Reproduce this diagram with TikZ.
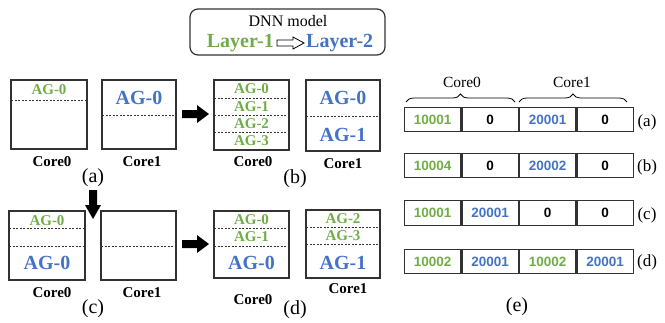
\documentclass[tikz,border=0pt]{standalone}
\usepackage{fontspec}
\setmainfont{Liberation Serif}
\newfontfamily\numfont{Liberation Sans}
\usetikzlibrary{decorations.pathreplacing}
\definecolor{agg}{RGB}{112,173,71}
\definecolor{agb}{RGB}{68,114,196}
\definecolor{lin}{RGB}{50,50,50}
\tikzset{
  corebox/.style={draw=lin,line width=1.3pt},
  sep/.style={draw=lin,dashed,line width=0.6pt,dash pattern=on 2pt off 1.5pt},
  agsmall/.style={text=agg,font=\fontsize{15}{15}\selectfont\bfseries,inner sep=0pt},
  agbig/.style={text=agb,font=\fontsize{20}{20}\selectfont\bfseries,inner sep=0pt},
  corelbl/.style={font=\fontsize{15}{15}\selectfont\bfseries,inner sep=0pt},
  sublbl/.style={font=\fontsize{20}{20}\selectfont,inner sep=0pt},
  rowlbl/.style={font=\fontsize{17}{17}\selectfont,inner sep=0pt},
  cell/.style={draw=lin,line width=1.2pt,minimum width=56.25pt,minimum height=24.5pt,inner sep=0pt,font=\numfont\fontsize{13.5}{13.5}\selectfont\bfseries,anchor=west},
  fatarrow/.style={fill=black},
}
\begin{document}
\begin{tikzpicture}[x=1pt,y=-1pt]
\useasboundingbox (0,0) rectangle (665,322);
% DNN model box
\node[draw=lin,line width=1.2pt,rounded corners=8pt,minimum width=195pt,minimum height=46pt,inner sep=0pt] (dnn) at (287.5,32) {};
\node[font=\fontsize{16}{16}\selectfont,inner sep=0pt] (dnnt) at (288,21) {DNN model};
\node[text=agg,font=\fontsize{20}{20}\selectfont\bfseries,inner sep=0pt,anchor=east] (l1) at (274,43) {Layer-1};
\node[text=agb,font=\fontsize{20}{20}\selectfont\bfseries,inner sep=0pt,anchor=west] (l2) at (306,43) {Layer-2};
\draw[line width=0.8pt,fill=white,line join=miter] (277,40) -- (293,40) -- (293,37) -- (304,43) -- (293,49) -- (293,46) -- (277,46) -- cycle;

% (a)
\draw[corebox] (11,80) rectangle (87,149);
\draw[sep] (11,100) -- (87,100);
\node[agsmall] (a0ag) at (49,90) {AG-0};
\draw[corebox] (102,80) rectangle (176,149);
\draw[sep] (102,115) -- (176,115);
\node[agbig] (a1ag) at (139,98) {AG-0};
\node[corelbl] (a0l) at (52,162) {Core0};
\node[corelbl] (a1l) at (142,162) {Core1};
\node[sublbl] (la) at (93,178) {(a)};

\fill[fatarrow] (182,110) -- (197,110) -- (197,105) -- (209,114) -- (197,123) -- (197,118) -- (182,118) -- cycle;

% (b)
\draw[corebox] (214,80) rectangle (289,150);
\draw[sep] (214,98) -- (289,98);
\draw[sep] (214,115) -- (289,115);
\draw[sep] (214,132) -- (289,132);
\node[agsmall] (b0a) at (251.5,89) {AG-0};
\node[agsmall] (b0b) at (251.5,107) {AG-1};
\node[agsmall] (b0c) at (251.5,124) {AG-2};
\node[agsmall] (b0d) at (251.5,141) {AG-3};
\draw[corebox] (306,80) rectangle (380,151);
\draw[sep] (306,116) -- (380,116);
\node[agbig] (b1a) at (343,98) {AG-0};
\node[agbig] (b1b) at (343,135) {AG-1};
\node[corelbl] (b0l) at (253,162) {Core0};
\node[corelbl] (b1l) at (343,164) {Core1};
\node[sublbl] (lb) at (295,179) {(b)};

\fill[fatarrow] (89,190) -- (97,190) -- (97,205) -- (101,205) -- (93,219) -- (85,205) -- (89,205) -- cycle;

% (c)
\draw[corebox] (9,211) rectangle (85,280);
\draw[sep] (9,228) -- (85,228);
\draw[sep] (9,246) -- (85,246);
\node[agsmall] (c0a) at (47,221) {AG-0};
\node[agbig] (c0b) at (47,263) {AG-0};
\draw[corebox] (101,211) rectangle (176,280);
\draw[sep] (101,246) -- (176,246);
\node[corelbl] (c0l) at (52,293) {Core0};
\node[corelbl] (c1l) at (142,293) {Core1};
\node[sublbl] (lc) at (93,309) {(c)};

\fill[fatarrow] (182,240) -- (197,240) -- (197,235) -- (209,244) -- (197,253) -- (197,248) -- (182,248) -- cycle;

% (d)
\draw[corebox] (214,211) rectangle (289,278);
\draw[sep] (214,228) -- (289,228);
\draw[sep] (214,246) -- (289,246);
\node[agsmall] (d0a) at (251.5,220) {AG-0};
\node[agsmall] (d0b) at (251.5,237) {AG-1};
\node[agbig] (d0c) at (251.5,263) {AG-0};
\draw[corebox] (306,210) rectangle (380,278);
\draw[sep] (306,227) -- (380,227);
\draw[sep] (306,244) -- (380,244);
\node[agsmall] (d1a) at (343,219) {AG-2};
\node[agsmall] (d1b) at (343,236) {AG-3};
\node[agbig] (d1c) at (343,263) {AG-1};
\node[corelbl] (d0l) at (253,300) {Core0};
\node[corelbl] (d1l) at (348,289) {Core1};
\node[sublbl] (ld) at (295,310) {(d)};

% (e) tables
\foreach \r/\y/\a/\ca/\b/\cb/\c/\cc/\d/\cd in {
  ra/119.5/10001/agg/0/black/20001/agb/0/black,
  rb/165.5/10004/agg/0/black/20002/agb/0/black,
  rc/213/10001/agg/20001/agb/0/black/0/black,
  rd/261.5/10002/agg/20001/agb/10002/agg/20001/agb}{
  \node[cell,text=\ca] (\r1) at (404,\y) {\a};
  \node[cell,text=\cb] (\r2) at (\r1.east) {\b};
  \node[cell,text=\cc] (\r3) at (\r2.east) {\c};
  \node[cell,text=\cd] (\r4) at (\r3.east) {\d};
}
\node[rowlbl] (ea) at (647,122) {(a)};
\node[rowlbl] (eb) at (647,167) {(b)};
\node[rowlbl] (ec) at (647,215) {(c)};
\node[rowlbl] (ed) at (647,262) {(d)};
\node[sublbl] (le) at (517,307) {(e)};

\coordinate (br0a) at (406,102);
\coordinate (br0b) at (515,102);
\coordinate (br1a) at (519,102);
\coordinate (br1b) at (627,102);
\draw[line width=0.8pt,decorate,decoration={brace,amplitude=8pt}] (br0a) -- (br0b);
\draw[line width=0.8pt,decorate,decoration={brace,amplitude=8pt}] (br1a) -- (br1b);
\node[font=\fontsize{15.5}{15.5}\selectfont,inner sep=0pt] (c0t) at (462,82) {Core0};
\node[font=\fontsize{15.5}{15.5}\selectfont,inner sep=0pt] (c1t) at (572,82) {Core1};
\end{tikzpicture}
\end{document}
